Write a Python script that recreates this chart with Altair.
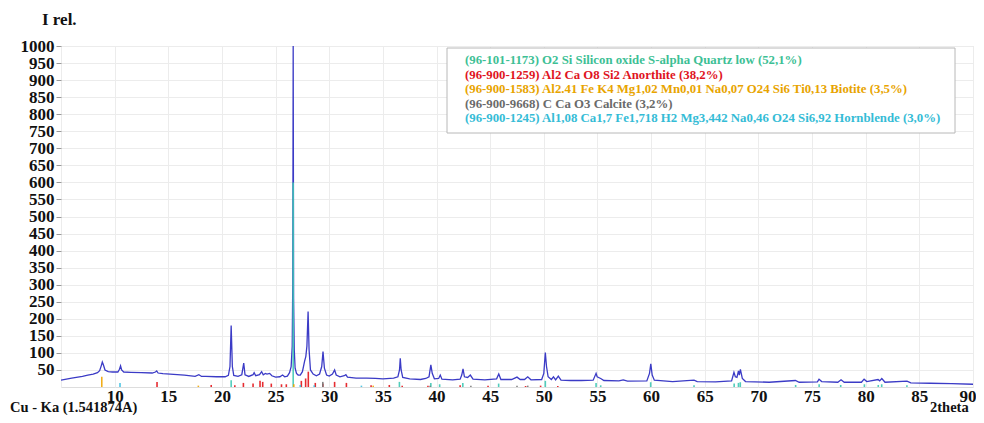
import altair as alt
import pandas as pd

two_theta = [5.0, 6.0, 7.0, 7.5, 8.0, 8.4, 8.6, 8.75, 8.85, 8.95, 9.1, 9.4, 9.8,
             10.3, 10.45, 10.55, 10.65, 10.85, 11.5, 12.5, 13.5, 13.8, 13.92, 14.05,
             14.5, 15.5, 16.5, 17.5, 17.85, 18.1, 18.5, 19.5, 20.3, 20.6, 20.75, 20.86,
             20.97, 21.1, 21.5, 21.85, 22.03, 22.15, 22.5, 22.9, 23.0, 23.15, 23.5, 23.7,
             23.85, 24.05, 24.2, 24.45, 24.65, 25.0, 25.4, 25.65, 25.85, 26.1, 26.3, 26.45,
             26.55, 26.6, 26.64, 26.68, 26.74, 26.82, 26.95, 27.1, 27.3, 27.5, 27.7, 27.82,
             27.92, 28.03, 28.12, 28.25, 28.5, 28.8, 29.1, 29.3, 29.42, 29.55, 29.75, 30.0,
             30.3, 30.5, 30.65, 31.0, 31.4, 31.55, 31.7, 32.5, 33.5, 34.3, 35.0, 36.0,
             36.4, 36.55, 36.62, 36.7, 36.85, 37.5, 38.5, 39.0, 39.3, 39.47, 39.6, 39.8,
             40.2, 40.35, 40.5, 41.5, 42.2, 42.35, 42.47, 42.6, 42.9, 43.15, 43.4, 44.5,
             45.6, 45.8, 46.0, 47.0, 47.5, 47.8, 48.2, 48.5, 48.8, 49.8, 50.0, 50.14,
             50.25, 50.4, 50.7, 50.9, 51.1, 51.35, 51.6, 52.5, 53.5, 54.6, 54.87, 54.97,
             55.3, 55.6, 57.0, 57.4, 57.8, 59.6, 59.85, 59.97, 60.1, 60.3, 62.0, 64.0,
             64.3, 66.0, 67.5, 67.72, 67.85, 68.0, 68.14, 68.22, 68.32, 68.5, 68.8, 71.0,
             73.45, 73.8, 75.5, 75.65, 75.9, 77.4, 77.7, 78.0, 79.6, 79.85, 80.1, 81.15,
             81.3, 81.5, 81.8, 83.85, 84.2, 86.0, 88.0, 90.0]
intensity = [20, 26, 31, 35, 38, 42, 48, 62, 73, 65, 50, 45, 44,
             44, 52, 62, 50, 44, 43, 42, 41, 44, 47, 41,
             39, 37, 35, 31, 36, 31, 31, 30, 30, 34, 60, 180,
             60, 34, 31, 36, 70, 36, 31, 36, 42, 33, 36, 45,
             36, 40, 38, 40, 33, 29, 30, 35, 30, 32, 42, 60,
             120, 300, 1000, 260, 110, 55, 40, 35, 35, 45, 75, 90,
             120, 221, 110, 50, 38, 33, 38, 60, 104, 55, 35, 32,
             38, 50, 35, 30, 33, 36, 29, 26, 26, 25, 24, 26,
             30, 50, 84, 50, 28, 24, 22, 25, 30, 65, 40, 24,
             25, 35, 23, 21, 23, 35, 53, 30, 28, 35, 23, 21,
             24, 38, 22, 22, 29, 22, 22, 30, 21, 22, 40, 101,
             60, 30, 22, 30, 21, 32, 20, 19, 19, 20, 40, 30,
             25, 19, 18, 21, 17, 18, 40, 68, 35, 20, 16, 20,
             16, 15, 18, 43, 30, 28, 47, 35, 52, 25, 16, 14,
             19, 14, 15, 23, 16, 14, 21, 14, 14, 23, 16, 22,
             18, 25, 14, 17, 12, 11, 10, 8]

# ---- reference phase lines (position, height) ----
quartz_pos = [20.86, 26.64, 36.54, 39.47, 40.29, 42.45, 45.79, 50.14, 54.87, 55.3,
              59.96, 64.0, 67.74, 68.14, 68.31, 73.47, 75.66, 77.67, 79.88, 81.17,
              81.49, 83.84]
quartz_h = [20, 600, 15, 12, 8, 12, 10, 18, 12, 5, 14, 5, 10, 12, 14, 6, 8, 6, 8, 6, 8, 5]

anorthite_pos = [13.95, 19.0, 21.2, 22.0, 22.9, 23.55, 23.8, 24.6, 25.55, 26.0, 27.4,
                 27.8, 28.05, 28.7, 29.4, 30.5, 31.6, 33.9, 35.6, 36.8, 39.2, 42.2,
                 44.8, 48.3, 49.7, 51.3]
anorthite_h = [15, 6, 5, 12, 10, 18, 15, 10, 8, 8, 18, 25, 45, 12, 10, 15, 12, 5, 6, 4,
               4, 5, 4, 3, 4, 3]

biotite_pos = [8.8, 17.8, 26.7, 34.1]
biotite_h = [30, 4, 8, 4]

calcite_pos = [29.4, 39.4, 43.2, 47.5, 48.5]
calcite_h = [15, 4, 4, 4, 4]

hornblende_pos = [10.5, 27.3, 28.6, 33.0]
hornblende_h = [12, 6, 5, 4]

phase_names = ["Quartz", "Anorthite", "Biotite", "Calcite", "Hornblende"]
phase_colors = ["#3ec8b4", "#e3151b", "#f0a500", "#777777", "#3cbfe0"]

legend_lines = [
    "(96-101-1173) O2 Si Silicon oxide S-alpha Quartz low (52,1%)",
    "(96-900-1259) Al2 Ca O8 Si2 Anorthite (38,2%)",
    "(96-900-1583) Al2.41 Fe K4 Mg1,02 Mn0,01 Na0,07 O24 Si6 Ti0,13 Biotite (3,5%)",
    "(96-900-9668) C Ca O3 Calcite (3,2%)",
    "(96-900-1245) Al1,08 Ca1,7 Fe1,718 H2 Mg3,442 Na0,46 O24 Si6,92 Hornblende (3,0%)",
]
legend_colors = ["#3dbf95", "#e0141e", "#e8a400", "#6a6a6a", "#35bcd6"]

y_ticks = list(range(50, 1050, 50))
x_ticks = list(range(5, 95, 5))

# ---- tables ----
obs = pd.DataFrame({"tt": two_theta, "I": intensity})
rows = []
for name, pos, h in [("Quartz", quartz_pos, quartz_h),
                     ("Anorthite", anorthite_pos, anorthite_h),
                     ("Biotite", biotite_pos, biotite_h),
                     ("Calcite", calcite_pos, calcite_h),
                     ("Hornblende", hornblende_pos, hornblende_h)]:
    for p, v in zip(pos, h):
        rows.append({"tt": p, "I": v, "I0": 0, "phase": name})
sticks = pd.DataFrame(rows)

FONT = "Liberation Serif"
W, H = 912, 341

x_scale = alt.Scale(domain=[5, 90], nice=False, zero=False)
y_scale = alt.Scale(domain=[0, 1000], nice=False)

x_axis = alt.Axis(values=x_ticks, title=None,
                  labelExpr="datum.value == 5 ? '' : datum.label",
                  labelFont=FONT, labelFontWeight="bold", labelFontSize=17,
                  labelColor="#111", labelFlush=True, labelFlushOffset=3,
                  labelOverlap=False,
                  labelPadding=1, ticks=False, domain=False,
                  grid=True, gridColor="#ececec")
y_axis = alt.Axis(values=y_ticks, title=None, format="d",
                  labelFont=FONT, labelFontWeight="bold", labelFontSize=17,
                  labelColor="#111", labelOverlap=False, labelPadding=2,
                  labelBound=False,
                  tickSize=5, tickColor="#999", domain=False,
                  grid=True, gridColor="#ececec")

line = alt.Chart(obs).mark_line(color="#3b3bc6", strokeWidth=1.3, clip=True).encode(
    x=alt.X("tt:Q", scale=x_scale, axis=x_axis),
    y=alt.Y("I:Q", scale=y_scale, axis=y_axis),
)

stick_layer = alt.Chart(sticks).mark_rule(strokeWidth=1.6, opacity=0.9).encode(
    x=alt.X("tt:Q", scale=x_scale, axis=x_axis),
    y=alt.Y("I:Q", scale=y_scale, axis=y_axis),
    y2="I0:Q",
    color=alt.Color("phase:N", scale=alt.Scale(domain=phase_names, range=phase_colors),
                    legend=None),
)

one = pd.DataFrame({"a": [0]})
box = alt.Chart(one).mark_rect(fill="white", stroke="#b8b8b8", strokeWidth=1).encode(
    x=alt.value(386), x2=alt.value(894), y=alt.value(2), y2=alt.value(87))

texts = []
for i, (t, c) in enumerate(zip(legend_lines, legend_colors)):
    texts.append(alt.Chart(one).mark_text(
        align="left", baseline="middle", font=FONT, fontWeight="bold",
        fontSize=12.8, color=c).encode(
        x=alt.value(404), y=alt.value(14 + i * 14.5), text=alt.value(t)))

ann = []
for t, x, y, s in [("I rel.", -19, -26, 17),
                   ("Cu - Ka (1.541874A)", -51, 362, 14.5),
                   ("2theta", 869, 362, 14.5)]:
    ann.append(alt.Chart(one).mark_text(
        align="left", baseline="middle", font=FONT, fontWeight="bold",
        fontSize=s, color="#111").encode(
        x=alt.value(x), y=alt.value(y), text=alt.value(t)))

chart = alt.layer(line, stick_layer, box, *texts, *ann).properties(
    width=W, height=H,
    autosize=alt.AutoSizeParams(type="none"),
    padding={"left": 53, "top": 38, "right": 3, "bottom": 28},
).configure_view(stroke="#8c8c8c", strokeWidth=1.2).configure_axis(
    labelOverlap=False).configure(background="white")

chart.save("out.html", embed_options={"renderer": "svg", "actions": False})
